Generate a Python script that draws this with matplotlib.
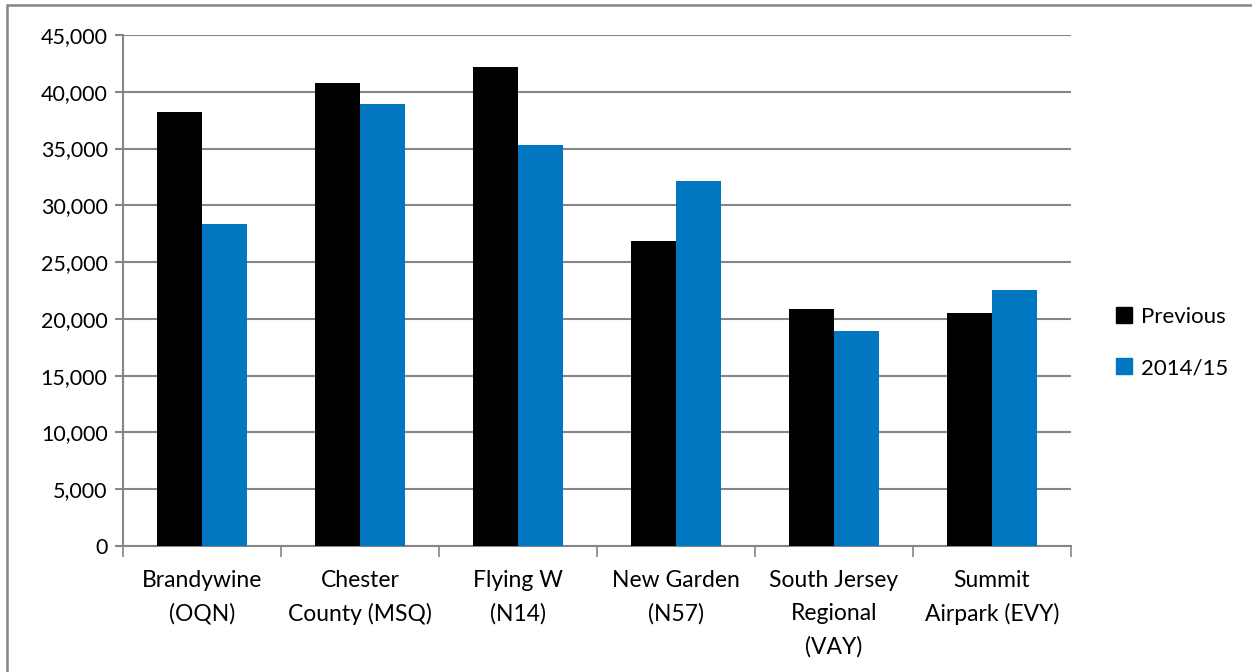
import numpy as np
import matplotlib.pyplot as plt
import matplotlib.lines as mlines
from matplotlib.patches import Rectangle
from matplotlib.ticker import FuncFormatter, FixedLocator

airports = ['Brandywine\n(OQN)', 'Chester\nCounty (MSQ)', 'Flying W\n(N14)',
            'New Garden\n(N57)', 'South Jersey\nRegional\n(VAY)', 'Summit\nAirpark (EVY)']
previous = [38200, 40770, 42200, 26850, 20900, 20500]
current = [28400, 38900, 35300, 32150, 18950, 22550]
series_names = ['Previous', '2014/15']

plt.rcParams['font.family'] = ['Lato', 'DejaVu Sans']

fig = plt.figure(figsize=(12.52, 6.72), dpi=100)
ax = fig.add_axes([0.0982, 0.1875, 0.757, 0.7604])

grid_c = '#868686'
x = np.arange(len(airports))
w = 0.285
ax.bar(x - w / 2, previous, w, color='black', zorder=3)
ax.bar(x + w / 2, current, w, color='#0077C0', zorder=3)

ax.set_xlim(-0.5, len(airports) - 0.5)
ax.set_ylim(0, 45000)
ax.set_yticks(np.arange(0, 45001, 5000))
ax.yaxis.set_major_formatter(FuncFormatter(lambda v, p: '{:,.0f}'.format(v)))
ax.yaxis.grid(True, color=grid_c, linewidth=1.5, zorder=0)

ax.set_xticks(x)
ax.set_xticklabels(airports, fontsize=16.5, linespacing=1.7, va='top')
ax.xaxis.set_minor_locator(FixedLocator(np.arange(-0.5, len(airports), 1)))
ax.tick_params(axis='x', which='major', length=0, pad=17)
ax.tick_params(axis='x', which='minor', length=8, width=1.2, color=grid_c)
ax.tick_params(axis='y', length=6, width=1.5, color=grid_c, labelsize=15.5, pad=5)

for s in ['top', 'right']:
    ax.spines[s].set_visible(False)
for s in ['left', 'bottom']:
    ax.spines[s].set_color(grid_c)
    ax.spines[s].set_linewidth(1.5)

handles = [mlines.Line2D([], [], color='black', marker='s', linestyle='None',
                         markersize=11, label=series_names[0]),
           mlines.Line2D([], [], color='#0077C0', marker='s', linestyle='None',
                         markersize=11, label=series_names[1])]
fig.legend(handles=handles, loc='center left', bbox_to_anchor=(0.882, 0.490),
           frameon=False, fontsize=16, handlelength=0.8, handletextpad=0.35,
           labelspacing=1.4, borderpad=0)

# outer chart border (clipped at right and bottom, as in the source)
fig.patches.append(Rectangle((7 / 1252, -0.1), 1.2, 1.1 - 4.5 / 672,
                             transform=fig.transFigure, fill=False,
                             edgecolor=grid_c, linewidth=1.8))

fig.savefig('out.png', dpi=100)
